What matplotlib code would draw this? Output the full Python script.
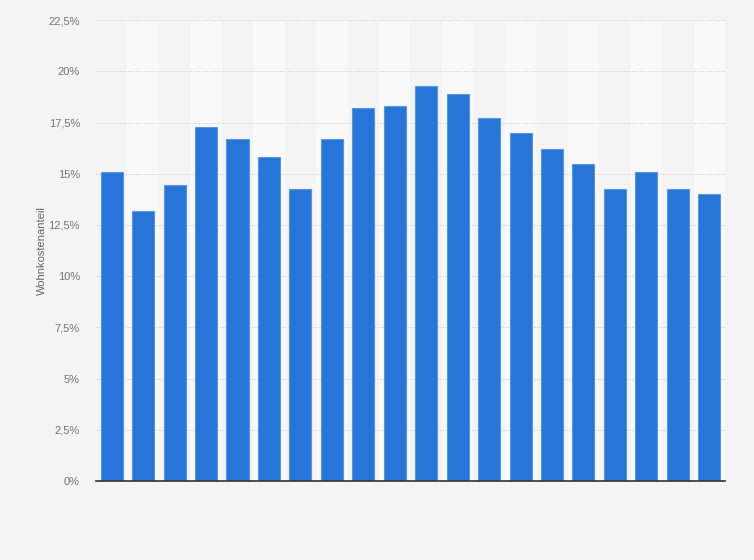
import matplotlib.pyplot as plt
from matplotlib.ticker import FuncFormatter

plt.rcParams['font.family'] = ['Liberation Sans', 'DejaVu Sans']

# Wohnkostenanteil in Prozent, 20 Jahre (keine x-Beschriftung im Original)
positions = list(range(20))
values = [15.1, 13.2, 14.45, 17.3, 16.7, 15.8, 14.25, 16.7, 18.2, 18.3,
          19.3, 18.9, 17.7, 17.0, 16.2, 15.5, 14.25, 15.1, 14.25, 14.0]
yticks = [0, 2.5, 5, 7.5, 10, 12.5, 15, 17.5, 20, 22.5]

fig = plt.figure(figsize=(7.54, 5.6), dpi=100)
fig.patch.set_facecolor('#f4f4f4')
ax = fig.add_axes([0.1273, 0.141, 0.8342, 0.823])
ax.set_facecolor('#f4f4f4')

# abwechselnde Hintergrundstreifen
for i in positions:
    if i % 2 == 1:
        ax.axvspan(i - 0.5, i + 0.5, color='#f9f9f9', zorder=0, lw=0)

ax.bar(positions, values, width=0.7, color='#2775d9', edgecolor='#5b96e3',
       linewidth=0.8, zorder=3)

ax.set_xlim(-0.5, 19.5)
ax.set_ylim(0, 22.5)
ax.set_yticks(yticks)
ax.yaxis.set_major_formatter(FuncFormatter(
    lambda v, p: ('%g' % v).replace('.', ',') + '%'))
ax.set_xticks([])
ax.tick_params(axis='y', length=0, pad=11.5, labelsize=8, labelcolor='#757575')
ax.grid(axis='y', color='#cdcdcd', linestyle=(0, (1.2, 1.5)), linewidth=0.7, zorder=1)

for s in ['top', 'right', 'left']:
    ax.spines[s].set_visible(False)
ax.spines['bottom'].set_color('#333333')
ax.spines['bottom'].set_linewidth(1.2)
ax.spines['bottom'].set_zorder(4)

ax.set_ylabel('Wohnkostenanteil', fontsize=8, color='#666666')
ax.yaxis.set_label_coords(-0.078, 0.5)

fig.savefig('out.png', dpi=100, facecolor=fig.get_facecolor())
